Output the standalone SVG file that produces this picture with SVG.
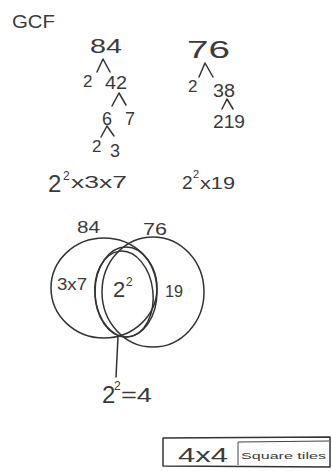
<svg xmlns="http://www.w3.org/2000/svg" width="332" height="471" viewBox="0 0 332 471">
<style>
text{font-family:"Liberation Sans","DejaVu Sans",sans-serif;fill:#3a3a3a}
.s{lengthAdjust:spacingAndGlyphs}
.l{fill:none;stroke:#333;stroke-width:1.5;stroke-linecap:round;stroke-linejoin:round}
.t{fill:none;stroke:#444;stroke-width:1}
</style>
<rect width="332" height="471" fill="#fff"/>
<text x="12" y="28" font-size="19" textLength="43" lengthAdjust="spacingAndGlyphs">GCF</text>
<g id="tree84">
<text x="90" y="53" font-size="21" textLength="32" lengthAdjust="spacingAndGlyphs">84</text>
<path class="l" d="M97 72 L103 59 L110 72"/>
<text x="83" y="87" font-size="17">2</text>
<text x="105" y="89" font-size="18" textLength="22" lengthAdjust="spacingAndGlyphs">42</text>
<path class="l" d="M112 106 L119 93 L126 105"/>
<text x="102" y="125" font-size="18">6</text>
<text x="125" y="125" font-size="18">7</text>
<path class="l" d="M101 137 L107 126 L114 136"/>
<text x="92" y="152" font-size="17">2</text>
<text x="110" y="157" font-size="18">3</text>
<text x="48" y="192" font-size="24">2</text>
<text x="63" y="180" font-size="12">2</text>
<text x="71" y="188" font-size="17" textLength="56" lengthAdjust="spacingAndGlyphs">x3x7</text>
</g>
<g id="tree76">
<text x="187" y="58" font-size="24" textLength="43" lengthAdjust="spacingAndGlyphs">76</text>
<path class="l" d="M199 77 L205 63 L213 77"/>
<text x="188" y="92" font-size="17">2</text>
<text x="213" y="97" font-size="18" textLength="22" lengthAdjust="spacingAndGlyphs">38</text>
<path class="l" d="M222 109 L227 99 L233 109"/>
<text x="213" y="128" font-size="18" textLength="32" lengthAdjust="spacingAndGlyphs">219</text>
<text x="182" y="189" font-size="19">2</text>
<text x="193" y="178" font-size="11">2</text>
<text x="200" y="189" font-size="17" textLength="35" lengthAdjust="spacingAndGlyphs">x19</text>
</g>
<g id="venn">
<text x="77" y="233" font-size="16" textLength="23" lengthAdjust="spacingAndGlyphs">84</text>
<text x="143" y="235" font-size="17" textLength="24" lengthAdjust="spacingAndGlyphs">76</text>
<ellipse class="l" cx="104" cy="288" rx="53" ry="50"/>
<ellipse class="l" cx="153" cy="292" rx="51" ry="55"/>
<ellipse class="l" cx="126" cy="292" rx="31" ry="45"/>
<ellipse class="l" cx="124" cy="294" rx="29" ry="43" transform="rotate(-6 124 294)"/>
<text x="57" y="290" font-size="16" textLength="30" lengthAdjust="spacingAndGlyphs">3x7</text>
<text x="113" y="297" font-size="22">2</text>
<text x="126" y="286" font-size="12">2</text>
<text x="165" y="297" font-size="16" textLength="18" lengthAdjust="spacingAndGlyphs">19</text>
</g>
<g id="connectors">
<path class="l" d="M118 337 L116 377"/>
</g>
<g id="result">
<text x="102" y="403" font-size="24">2</text>
<text x="114" y="390" font-size="12">2</text>
<text x="121" y="402" font-size="21" textLength="31" lengthAdjust="spacingAndGlyphs">=4</text>
</g>
<g id="box">
<path class="l" d="M163 438 L330 437 L330 467 L163 466 Z"/>
<path class="t" d="M238 465 L238 442 L329 441"/>
<text x="178" y="462" font-size="21" textLength="50" lengthAdjust="spacingAndGlyphs">4x4</text>
<text x="241" y="459" font-size="9" textLength="85" lengthAdjust="spacingAndGlyphs">Square tiles</text>
</g>
</svg>
